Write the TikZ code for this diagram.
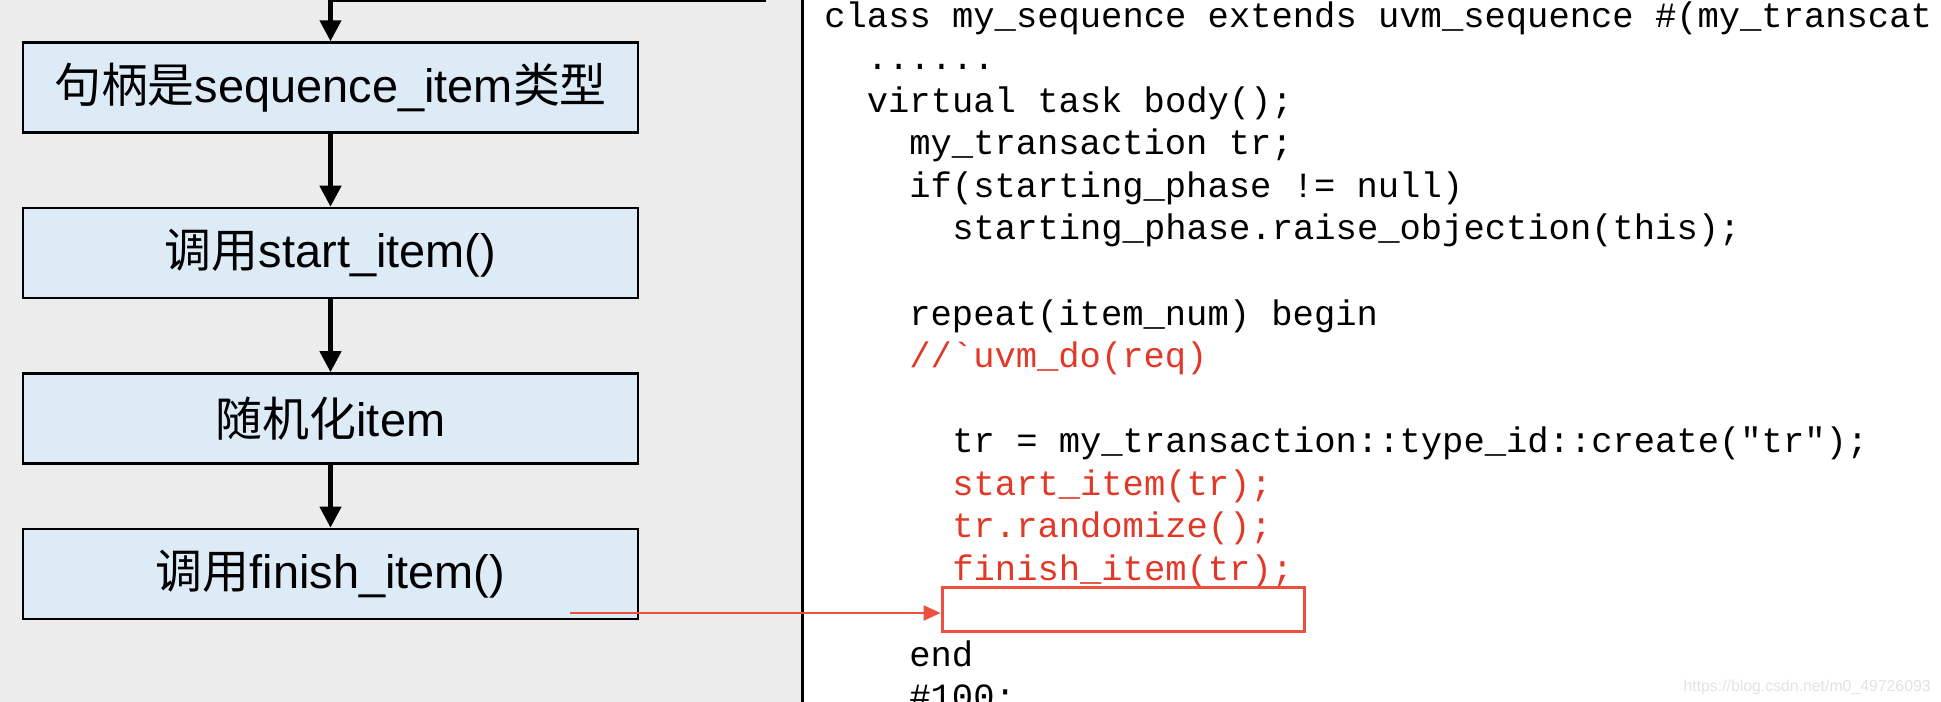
\documentclass[tikz,border=0pt]{standalone}
\usepackage{fontspec}
\setmainfont{Liberation Sans}
\setmonofont{Liberation Mono}
\newfontfamily\cjk{Noto Sans CJK SC}
\usepackage{xcolor}
\definecolor{boxblue}{RGB}{221,235,247}
\definecolor{panelgray}{RGB}{236,236,236}
\definecolor{codered}{RGB}{226,56,40}
\definecolor{markred}{RGB}{238,80,64}
\definecolor{marklgray}{RGB}{226,226,226}
\usepackage{tikz}
\usetikzlibrary{arrows.meta, positioning}

\newcommand{\boxfont}{\fontsize{26.7pt}{32pt}\selectfont}
\newcommand{\codefont}{\ttfamily\fontsize{20.2pt}{24pt}\selectfont}

\tikzset{
  stepbox/.style={draw=black, line width=1.4pt, fill=boxblue, minimum width=12.3cm,
                  minimum height=1.8cm, inner sep=0pt, font=\boxfont},
  flow/.style={line width=2.5pt, -{Triangle[length=0.42cm, width=0.42cm]}},
  codeline/.style={anchor=base west, inner sep=0pt, font=\codefont},
  redline/.style={codeline, text=codered},
}

\begin{document}
\begin{tikzpicture}

\useasboundingbox (0,0) rectangle (38.82,-14.04);
\clip (0,0) rectangle (38.82,-14.04);

% === Left panel: flow of steps ===
\fill[panelgray] (0,0) rectangle (16.04,-14.04);

\node[stepbox] (seqbox) at (6.61,-1.75) {{\cjk 句柄是}sequence\_item{\cjk 类型}};
\node[stepbox, below=1.46cm of seqbox] (startbox) {{\cjk 调用}start\_item()};
\node[stepbox, below=1.46cm of startbox] (randbox) {{\cjk 随机化}item};
\node[stepbox, below=1.26cm of randbox] (finishbox) {{\cjk 调用}finish\_item()};

\coordinate (loopend) at (15.32,0);
\draw[flow] (loopend) -| (seqbox.north);
\draw[flow] (seqbox) -- (startbox);
\draw[flow] (startbox) -- (randbox);
\draw[flow] (randbox) -- (finishbox);

% divider
\draw[line width=1.7pt] (16.04,0) -- (16.04,-14.04);

% === Right panel: code ===
\node[codeline] (c1) at (16.48,-0.55) {class my\_sequence extends uvm\_sequence \#(my\_transcat};
\node[codeline] (c2) at (17.33,-1.40) {......};
\node[codeline] (c3) at (17.33,-2.25) {virtual task body();};
\node[codeline] (c4) at (18.18,-3.10) {my\_transaction tr;};
\node[codeline] (c5) at (18.18,-3.95) {if(starting\_phase != null)};
\node[codeline] (c6) at (19.04,-4.80) {starting\_phase.raise\_objection(this);};
\node[codeline] (c8) at (18.18,-6.51) {repeat(item\_num) begin};
\node[redline]  (c9) at (18.18,-7.36) {//`uvm\_do(req)};
\node[codeline] (c11) at (19.04,-9.06) {tr = my\_transaction::type\_id::create("tr");};
\node[redline]  (c12) at (19.04,-9.91) {start\_item(tr);};
\node[redline]  (c13) at (19.04,-10.76) {tr.randomize();};
\node[redline]  (c14) at (19.04,-11.61) {finish\_item(tr);};
\node[codeline] (c16) at (18.18,-13.32) {end};
\node[codeline] (c17) at (18.18,-14.17) {\#100;};

% highlight box and pointer
\node[draw=markred, line width=1.7pt, minimum width=7.24cm, minimum height=0.88cm,
      inner sep=0pt] (hlbox) at (22.46,-12.19) {};
\coordinate (tail) at (11.4,-12.26);
\draw[markred, line width=1.4pt, -{Triangle[length=0.34cm, width=0.3cm]}]
     (tail) -- (tail -| hlbox.west);

% watermark
\node[anchor=base east, inner sep=0pt, text=marklgray,
      font=\fontsize{9pt}{10pt}\selectfont] (mark) at (38.62,-13.82)
     {https://blog.csdn.net/m0\_49726093};

\end{tikzpicture}
\end{document}
